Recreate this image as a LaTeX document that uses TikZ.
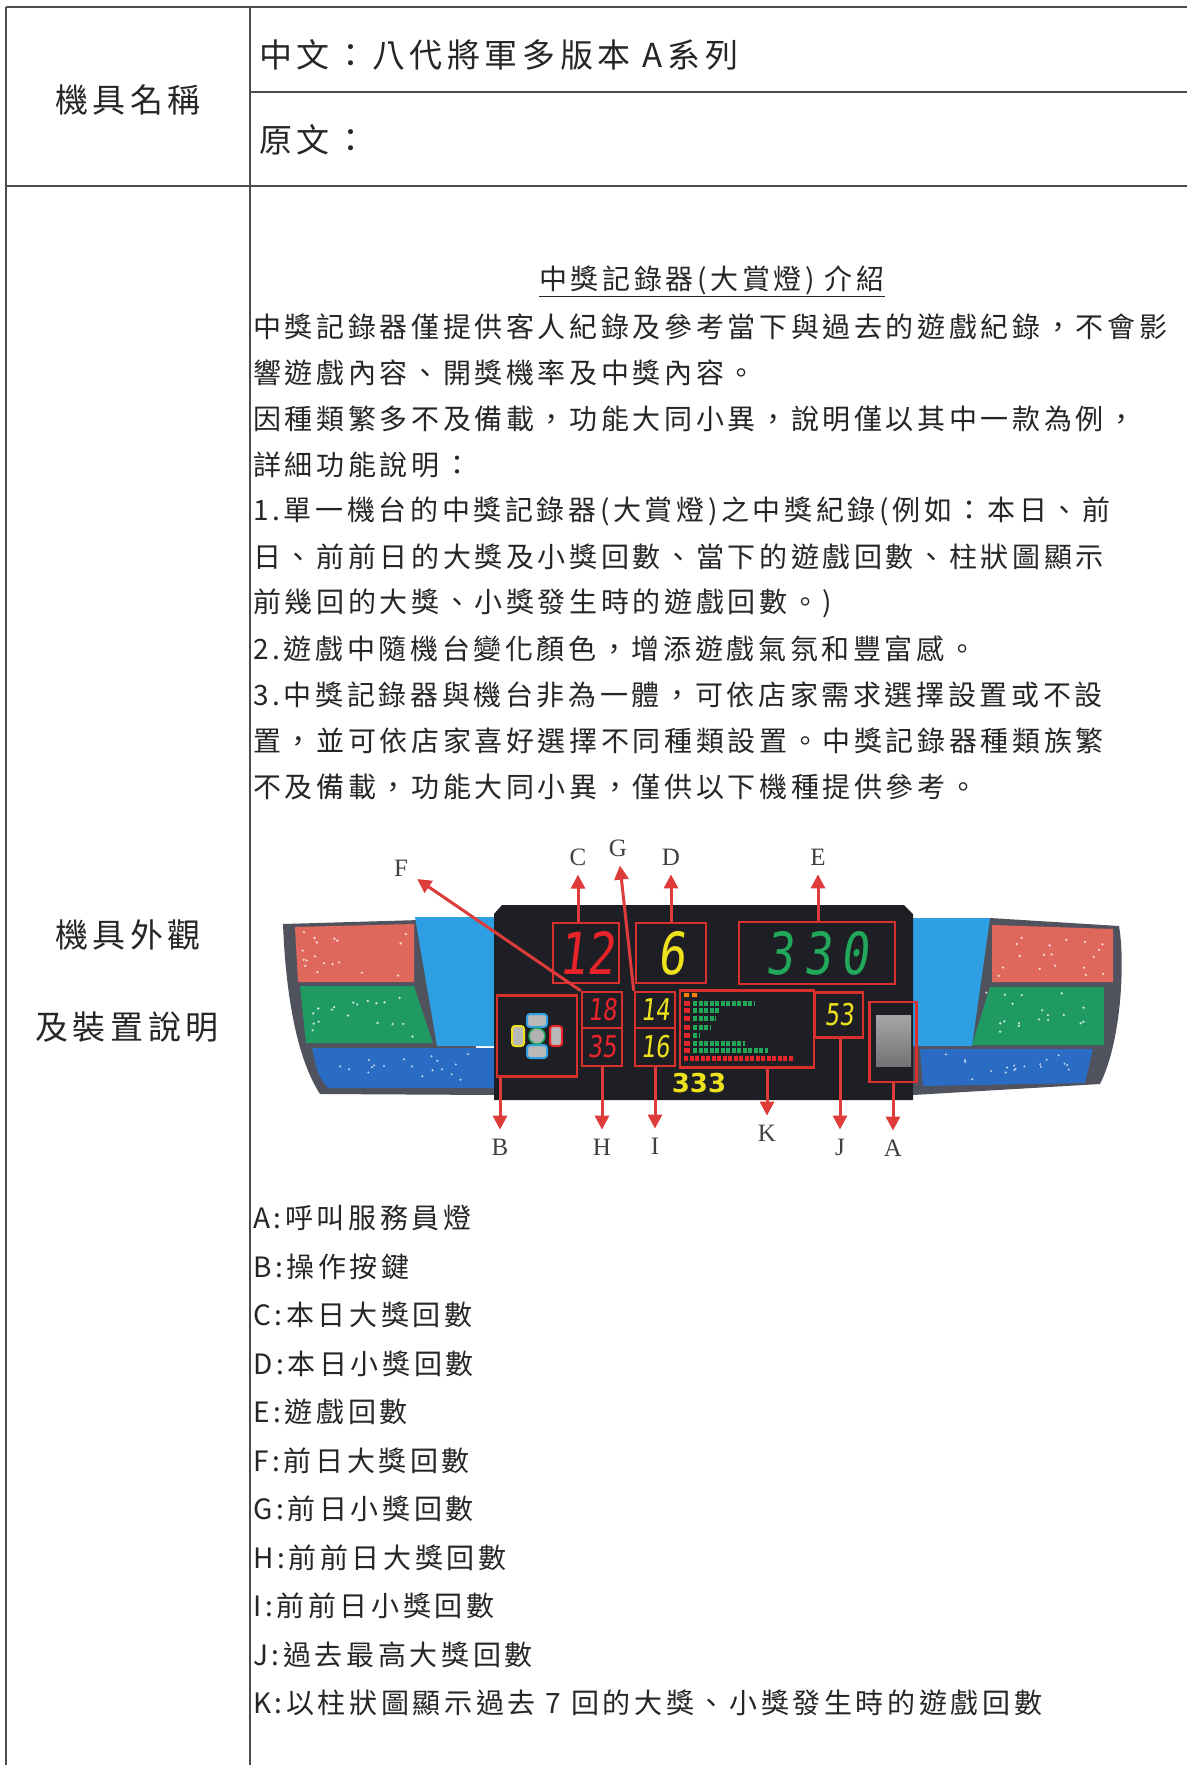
\documentclass[tikz,border=0pt]{standalone}
\usepackage{fontspec}
\setmainfont{Noto Sans CJK TC}[LetterSpace=13]
\newfontfamily\headfont{Noto Sans CJK TC}[LetterSpace=14]
\newfontfamily\labfont{Liberation Serif}
\newfontfamily\segfont{DejaVu Sans Mono}[FakeSlant=0.12,FakeStretch=0.8]
\newfontfamily\panelfont{DejaVu Sans}
\usetikzlibrary{arrows.meta}
\definecolor{boxred}{HTML}{D8302C}
\definecolor{arrred}{HTML}{DE3B3B}
\definecolor{shell}{HTML}{50535E}
\definecolor{panel}{HTML}{1E1F24}
\definecolor{capblue}{HTML}{2E9FE3}
\definecolor{bandred}{HTML}{E0675C}
\definecolor{bandgreen}{HTML}{1F9A63}
\definecolor{bandblue}{HTML}{2A6CC4}
\definecolor{segred}{HTML}{E8242A}
\definecolor{segyellow}{HTML}{EDE21C}
\definecolor{seggreen}{HTML}{21A85A}
\begin{document}
\begin{tikzpicture}[x=1pt,y=-1pt]
	\tikzstyle{tline}=[draw=black!70,line width=1.4pt]
	\tikzstyle{para}=[anchor=west,inner sep=0pt,font=\fontsize{28}{30}\selectfont,text=black!85]
	\tikzstyle{head}=[inner sep=0pt,font=\headfont\fontsize{33}{36}\selectfont,text=black!85]
	\tikzstyle{redbox}=[draw=boxred,line width=2.6pt,inner sep=0pt]
	\tikzstyle{seg}=[font=\segfont\fontsize{58}{58}\selectfont]
	\tikzstyle{segs}=[font=\segfont\fontsize{30}{30}\selectfont]
	\tikzstyle{lab}=[font=\labfont\fontsize{25}{25}\selectfont,text=black!75,inner sep=9pt]
	\tikzstyle{arr}=[draw=arrred,line width=3pt,-{Triangle[length=14pt,width=14pt]}]
	\tikzstyle{spark}=[white,opacity=0.75]
	\useasboundingbox (0,0) rectangle (1187,1765);
	\fill[white] (0,0) rectangle (1187,1765);
	% table
	\draw[tline] (6,7) -- (1187,7) (6,7) -- (6,1765) (250,7) -- (250,1765);
	\draw[tline] (250,92) -- (1187,92) (6,186) -- (1187,186);
	\node[head,anchor=west] (zhname) at (259,55) {中文：八代將軍多版本 A系列};
	\node[head,anchor=west] (orname) at (259,140) {原文：};
	\node[head] (namecell) at (128,100) {機具名稱};
	\node[head] (lookcell) at (128,935) {機具外觀};
	\node[head] (desccell) at (127,1027) {及裝置說明};
	% text
	\node[para,anchor=center] (title) at (712,281) {\underline{中獎記錄器(大賞燈) 介紹}};
	\foreach \t [count=\i] in {中獎記錄器僅提供客人紀錄及參考當下與過去的遊戲紀錄，不會影,
		響遊戲內容、開獎機率及中獎內容。,
		因種類繁多不及備載，功能大同小異，說明僅以其中一款為例，,
		詳細功能說明：,
		1.單一機台的中獎記錄器(大賞燈)之中獎紀錄(例如：本日、前,
		日、前前日的大獎及小獎回數、當下的遊戲回數、柱狀圖顯示,
		前幾回的大獎、小獎發生時的遊戲回數。),
		2.遊戲中隨機台變化顏色，增添遊戲氣氛和豐富感。,
		3.中獎記錄器與機台非為一體，可依店家需求選擇設置或不設,
		置，並可依店家喜好選擇不同種類設置。中獎記錄器種類族繁,
		不及備載，功能大同小異，僅供以下機種提供參考。}
		\node[para] (line\i) at (253,{281+46*\i}) {\t};
	\foreach \t [count=\i] in {A:呼叫服務員燈, B:操作按鍵, C:本日大獎回數, D:本日小獎回數,
		E:遊戲回數, F:前日大獎回數, G:前日小獎回數, H:前前日大獎回數, I:前前日小獎回數,
		J:過去最高大獎回數, K:以柱狀圖顯示過去 7 回的大獎、小獎發生時的遊戲回數}
		\node[para] (item\i) at (253,{1169.5+48.5*\i}) {\t};
	% device
	\fill[shell] (283,924) -- (420,920) -- (497,1095) -- (320,1094) .. controls (298,1060) and (286,1000) .. cycle;
	\fill[shell] (913,918) -- (990,918) -- (1119,926) .. controls (1125,960) and (1122,1040) .. (1100,1084) -- (913,1095) -- cycle;
	\fill[bandred] (295,927) -- (414,924) -- (414,982) -- (298,982) -- cycle;
	\fill[bandgreen] (300,986) -- (414,986) -- (433,1043) -- (306,1043) -- cycle;
	\fill[bandblue] (312,1048) -- (497,1048) -- (497,1088) -- (328,1088) .. controls (318,1075) .. cycle;
	\fill[capblue] (415,917) -- (497,917) -- (497,1046) -- (437,1046) -- cycle;
	\fill[bandred] (992,925) -- (1113,929) -- (1113,982) -- (992,982) -- cycle;
	\fill[bandgreen] (990,987) -- (1104,987) -- (1104,1045) -- (972,1045) -- cycle;
	\fill[bandblue] (920,1049) -- (1093,1049) -- (1085,1083) -- (923,1086) -- cycle;
	\fill[capblue] (913,918) -- (990,918) -- (972,1046) -- (913,1046) -- cycle;
	\pgfmathsetseed{11}
	\foreach \k in {1,...,18} {
		\fill[spark] ({302+rnd*105},{932+rnd*44}) circle (1.3pt);
		\fill[spark] ({312+rnd*110},{992+rnd*46}) circle (1.3pt);
		\fill[spark] ({998+rnd*108},{932+rnd*44}) circle (1.3pt);
		\fill[spark] ({985+rnd*112},{992+rnd*46}) circle (1.3pt);
		\fill[spark] ({930+rnd*150},{1054+rnd*26}) circle (1.1pt);
		\fill[spark] ({335+rnd*150},{1054+rnd*26}) circle (1.1pt);
	}
	\fill[panel] (494,914) -- (502,905) -- (904,905) -- (913,914) -- (913,1100) -- (494,1100) -- cycle;
	% displays
	\node[redbox,minimum width=66pt,minimum height=60pt,seg,text=segred] (boxC) at (586,953) {12};
	\node[redbox,minimum width=70pt,minimum height=60pt,seg,text=segyellow] (boxD) at (671,953) {6};
	\node[redbox,minimum width=156pt,minimum height=62pt,seg,text=seggreen] (boxE) at (817,953) {3\hspace{10pt}3\hspace{10pt}0};
	\node[redbox,minimum width=40pt,minimum height=36pt,segs,text=segred] (boxF) at (602,1010) {18};
	\node[redbox,minimum width=40pt,minimum height=38pt,segs,text=segred] (boxH) at (602,1047) {35};
	\node[redbox,minimum width=40pt,minimum height=36pt,segs,text=segyellow] (boxG) at (655,1010) {14};
	\node[redbox,minimum width=40pt,minimum height=38pt,segs,text=segyellow] (boxI) at (655,1047) {16};
	\node[redbox,minimum width=134pt,minimum height=77pt] (boxK) at (747,1029) {};
	\node[redbox,minimum width=48pt,minimum height=45pt,segs,text=segyellow] (boxJ) at (839,1015) {53};
	\node[redbox,minimum width=47pt,minimum height=80pt] (boxA) at (893,1042) {};
	\node[redbox,minimum width=80pt,minimum height=81pt] (boxB) at (537,1036) {};
	% bar chart
	\fill[orange] (684,993) rectangle (689,997) (692,993) rectangle (697,997);
	\foreach \y/\e in {1003/754,1010/719,1018/716,1027/711,1035/699,1043/745,1050/768} {
		\fill[segred] (684,\y-2.5) rectangle (690,\y+2.5);
		\draw[seggreen,line width=5pt,dash pattern=on 4pt off 1.5pt] (693,\y) -- (\e,\y);
	}
	\draw[segred,line width=5pt,dash pattern=on 4pt off 1.5pt] (684,1058) -- (794,1058);
	% buttons and switch
	\draw[capblue,line width=2pt,fill=gray!55,rounded corners=3pt] (527,1014) rectangle (547,1027) (527,1045) rectangle (547,1058);
	\draw[segyellow,line width=2pt,fill=gray!55,rounded corners=3pt] (512,1026) rectangle (524,1046);
	\draw[segred,line width=2pt,fill=gray!55,rounded corners=3pt] (550,1026) rectangle (562,1046);
	\draw[seggreen,line width=1.5pt,fill=gray!60] (537,1036) circle (8pt);
	\shade[top color=gray!70,middle color=white,bottom color=black!55] (876,1015) rectangle (911,1066);
	\node[font=\panelfont\bfseries\fontsize{26}{26}\selectfont,text=segyellow,inner sep=0pt] (count) at (699,1083) {333};
	% labels
	\node[lab] (labC) at (578,857) {C};
	\node[lab] (labG) at (618,848) {G};
	\node[lab] (labD) at (671,857) {D};
	\node[lab] (labE) at (818,857) {E};
	\node[lab] (labF) at (401,868) {F};
	\node[lab] (labB) at (500,1147) {B};
	\node[lab] (labH) at (602,1147) {H};
	\node[lab] (labI) at (655,1146) {I};
	\node[lab] (labK) at (767,1133) {K};
	\node[lab] (labJ) at (840,1147) {J};
	\node[lab] (labA) at (893,1148) {A};
	\draw[arr] (labC |- boxC.north) -- (labC);
	\draw[arr] (boxD.north) -- (labD);
	\draw[arr] (labE |- boxE.north) -- (labE);
	\draw[arr] (boxF.north west) -- (labF);
	\draw[arr] (boxG.north west) -- (labG);
	\draw[arr] (labB |- boxB.south) -- (labB);
	\draw[arr] (boxH.south) -- (labH);
	\draw[arr] (boxI.south) -- (labI);
	\draw[arr] (labK |- boxK.south) -- (labK);
	\draw[arr] (labJ |- boxJ.south) -- (labJ);
	\draw[arr] (boxA.south) -- (labA);
\end{tikzpicture}
\end{document}
